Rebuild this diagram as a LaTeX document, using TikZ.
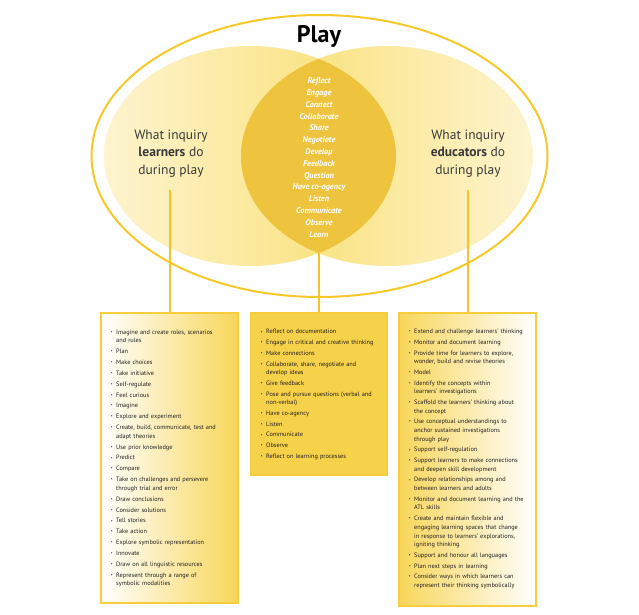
\documentclass[tikz,border=0pt]{standalone}
\usepackage{fontspec}
\setmainfont{PT Sans}
\definecolor{outerY}{HTML}{F6C92A}
\definecolor{ellY}{HTML}{F9DE6C}
\definecolor{ellPale}{HTML}{FDF4CF}
\definecolor{lensY}{HTML}{EEC43F}
\definecolor{boxBorder}{HTML}{F5CD3D}
\definecolor{midFill}{HTML}{F6D14A}
\definecolor{boxY}{HTML}{F8D65A}
\definecolor{connY}{HTML}{F3C52A}
\definecolor{txt}{HTML}{231F20}
\definecolor{labtxt}{HTML}{3A3A3A}
\newcommand\li[1]{\par\leavevmode\llap{\raisebox{0.9pt}{\fontsize{4}{4}\selectfont\textbullet}\hspace{3.5pt}}#1}
\tikzset{
  conn/.style={draw=connY, line width=1.2pt},
  listbox/.style={draw=boxBorder, line width=1.3pt, minimum width=137pt, inner sep=0pt},
  listtext/.style={anchor=north west, inner sep=0pt, text width=126pt, text=txt,
    font=\fontsize{6.3}{8.7}\selectfont, align=left},
  sidelab/.style={align=center, text=labtxt, font=\fontsize{13.5}{17.5}\selectfont},
}
\begin{document}
\begin{tikzpicture}[x=1pt,y=-1pt]
\useasboundingbox (0,0) rectangle (639,614);
% outer ellipse
\draw[draw=outerY, line width=2pt, fill=white] (319.5,156) ellipse [x radius=228pt, y radius=141pt];
% left and right ellipses
\shade[left color=ellPale, right color=ellY] (250,156) ellipse [x radius=146pt, y radius=110pt];
\shade[left color=ellY, right color=ellPale] (387,156) ellipse [x radius=146pt, y radius=110pt];
\begin{scope}
  \clip (250,156) ellipse [x radius=146pt, y radius=110pt];
  \fill[lensY] (387,156) ellipse [x radius=146pt, y radius=110pt];
\end{scope}
% title
\node[anchor=base, inner sep=0pt, text=black, font=\fontsize{24}{24}\selectfont\bfseries] (title) at (319,42) {Play};
% side labels
\node[sidelab] (llab) at (171,153.5) {What inquiry\\\textbf{learners} do\\during play};
\node[sidelab] (rlab) at (468,153.5) {What inquiry\\\textbf{educators} do\\during play};
% lens words
\node[align=center, text=white, inner sep=0pt, font=\fontsize{8.3}{11.8}\selectfont\bfseries\itshape] (lens) at (319,157.5)
  {Reflect\\Engage\\Connect\\Collaborate\\Share\\Negotiate\\Develop\\Feedback\\Question\\Have co-agency\\Listen\\Communicate\\Observe\\Learn};
% boxes
\node[listbox, minimum height=290pt, left color=white, right color=boxY] (lbox) at (169.5,458) {};
\node[listbox, minimum height=162pt, fill=midFill, minimum width=136pt] (mbox) at (319,394) {};
\node[listbox, minimum height=293pt, left color=boxY, right color=white] (rbox) at (467.5,459.5) {};
% connectors
\coordinate (lstart) at (170,190);
\coordinate (mstart) at (319,253);
\coordinate (rstart) at (468,190);
\draw[conn] (lstart) -- (lstart |- lbox.north);
\draw[conn] (mstart) -- (mstart |- mbox.north);
\draw[conn] (rstart) -- (rstart |- rbox.north);
% list texts
\node[listtext] (ltext) at (116,323) {\setlength\parskip{2.15pt}\raggedright
\li{Imagine and create roles, scenarios\\and rules}
\li{Plan}
\li{Make choices}
\li{Take initiative}
\li{Self-regulate}
\li{Feel curious}
\li{Imagine}
\li{Explore and experiment}
\li{Create, build, communicate, test and\\adapt theories}
\li{Use prior knowledge}
\li{Predict}
\li{Compare}
\li{Take on challenges and persevere\\through trial and error}
\li{Draw conclusions}
\li{Consider solutions}
\li{Tell stories}
\li{Take action}
\li{Explore symbolic representation}
\li{Innovate}
\li{Draw on all linguistic resources}
\li{Represent through a range of\\symbolic modalities}\par};
\node[listtext] (mtext) at (266,323) {\setlength\parskip{2pt}\raggedright
\li{Reflect on documentation}
\li{Engage in critical and creative thinking}
\li{Make connections}
\li{Collaborate, share, negotiate and\\develop ideas}
\li{Give feedback}
\li{Pose and pursue questions (verbal and\\non-verbal)}
\li{Have co-agency}
\li{Listen}
\li{Communicate}
\li{Observe}
\li{Reflect on learning processes}\par};
\node[listtext] (rtext) at (414,323) {\setlength\parskip{1.95pt}\raggedright
\li{Extend and challenge learners' thinking}
\li{Monitor and document learning}
\li{Provide time for learners to explore,\\wonder, build and revise theories}
\li{Model}
\li{Identify the concepts within\\learners' investigations}
\li{Scaffold the learners' thinking about\\the concept}
\li{Use conceptual understandings to\\anchor sustained investigations\\through play}
\li{Support self-regulation}
\li{Support learners to make connections\\and deepen skill development}
\li{Develop relationships among and\\between learners and adults}
\li{Monitor and document learning and the\\ATL skills}
\li{Create and maintain flexible and\\engaging learning spaces that change\\in response to learners' explorations,\\igniting thinking}
\li{Support and honour all languages}
\li{Plan next steps in learning}
\li{Consider ways in which learners can\\represent their thinking symbolically}\par};
\end{tikzpicture}
\end{document}
